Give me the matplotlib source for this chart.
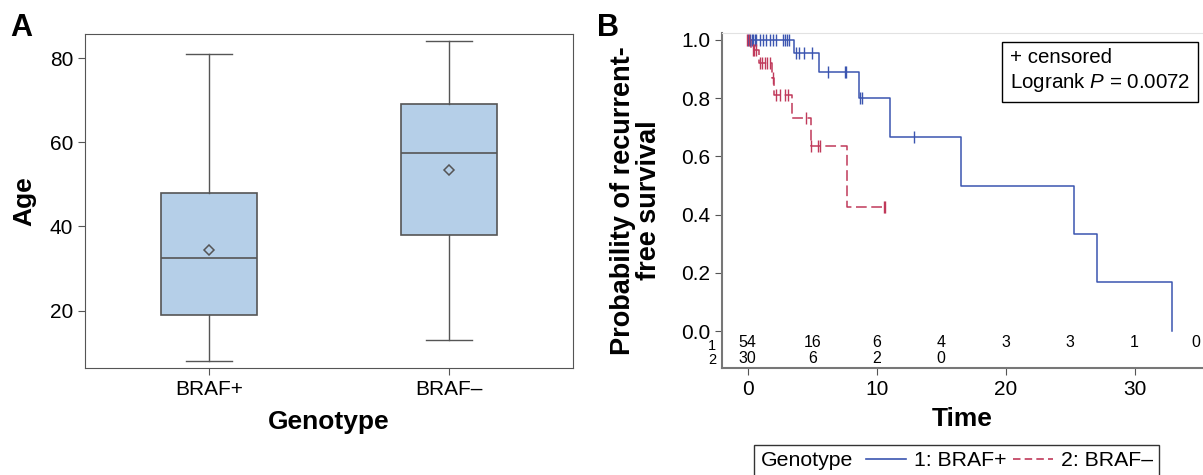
import numpy as np
import matplotlib
matplotlib.use("Agg")
import matplotlib.pyplot as plt
from matplotlib.lines import Line2D
from matplotlib.offsetbox import HPacker

plt.rcParams['font.family'] = ['Liberation Sans', 'DejaVu Sans']
plt.rcParams['mathtext.fontset'] = 'custom'
plt.rcParams['mathtext.it'] = 'Liberation Sans:italic'
plt.rcParams['mathtext.rm'] = 'Liberation Sans'

# panel A: age by genotype
groups = ['BRAF+', 'BRAF\u2013']
whis_lo = [8, 13]
q1 = [19, 38]
median = [32.5, 57.5]
q3 = [48, 69]
whis_hi = [81, 84]
means = [34.5, 53.5]

# panel B: Kaplan-Meier steps (time, survival)
braf_pos_t = [0, 3.6, 5.5, 8.6, 11.05, 16.55, 25.3, 27.1, 32.9]
braf_pos_s = [1.0, 0.957, 0.891, 0.80, 0.667, 0.50, 0.333, 0.167, 0.0]
braf_pos_end = 32.9
braf_neg_t = [0, 0.25, 0.88, 1.9, 2.0, 3.44, 4.9, 7.7]
braf_neg_s = [1.0, 0.966, 0.922, 0.868, 0.811, 0.731, 0.637, 0.425]
braf_neg_end = 10.7

# censored times
cens_pos_t = [0.03, 0.16, 0.29, 0.41, 0.54, 0.67, 0.93, 1.19, 1.45, 1.71, 1.97, 2.22,
              2.74, 2.92, 3.05, 3.21,
              3.75, 3.95, 4.35, 4.95,
              6.2, 7.55, 7.65,
              8.7, 8.85,
              12.9]
cens_neg_t = [-0.05, 0.1, 0.37, 0.5, 0.67, 0.93, 1.11, 1.32, 1.5, 1.76, 1.97,
              2.22, 2.53, 2.87, 3.13, 4.5, 4.93, 5.45, 5.63, 10.55, 10.65]

risk_times = [0, 5, 10, 15, 20, 25, 30, 34.75]
risk_pos = [54, 16, 6, 4, 3, 3, 1, 0]
risk_neg = [30, 6, 2, 0]

blue = '#3B55B0'
red = '#C0395A'
box_fill = '#B5CFE8'
gray = '#555555'


def km_value(times, surv, t):
    idx = np.searchsorted(times, t, side='right') - 1
    return surv[max(idx, 0)]


fig = plt.figure(figsize=(12.03, 4.75), dpi=100)

# ---------- A ----------
axA = fig.add_axes([85 / 1203, 1 - 368 / 475, 488 / 1203, 334 / 475])
stats = []
for i in range(len(groups)):
    stats.append(dict(med=median[i], q1=q1[i], q3=q3[i], whislo=whis_lo[i],
                      whishi=whis_hi[i], mean=means[i], fliers=[], label=groups[i]))
axA.bxp(stats, positions=[1, 2], widths=0.4, capwidths=0.19, showmeans=True,
        patch_artist=True,
        boxprops=dict(facecolor=box_fill, edgecolor=gray, linewidth=1.2),
        medianprops=dict(color=gray, linewidth=1.2),
        whiskerprops=dict(color=gray, linewidth=1.0),
        capprops=dict(color=gray, linewidth=1.0),
        meanprops=dict(marker='D', markerfacecolor='none', markeredgecolor=gray,
                       markersize=5.5, markeredgewidth=1.1))
axA.set_xlim(0.483, 2.517)
axA.set_ylim(6.4, 85.7)
axA.set_yticks([20, 40, 60, 80])
axA.tick_params(labelsize=15, color=gray, length=5)
for sp in axA.spines.values():
    sp.set_color(gray)
axA.set_xlabel('Genotype', fontsize=19, fontweight='bold', labelpad=8)
axA.set_ylabel('Age', fontsize=19, fontweight='bold', labelpad=10)
fig.text(10 / 1203, 1 - 28 / 475, 'A', fontsize=22, fontweight='bold', va='center')

# ---------- B ----------
axB = fig.add_axes([722 / 1203, 1 - 368 / 475, 481 / 1203, 335 / 475])
axB.step(braf_pos_t + [braf_pos_end], braf_pos_s + [braf_pos_s[-1]], where='post',
         color=blue, lw=1.1)
axB.step(braf_neg_t + [braf_neg_end], braf_neg_s + [braf_neg_s[-1]], where='post',
         color=red, lw=1.1, dashes=(7, 3))
axB.plot(cens_pos_t, [km_value(braf_pos_t, braf_pos_s, t) for t in cens_pos_t],
         ls='none', marker='|', ms=8, mew=1.0, color=blue)
axB.plot(cens_neg_t, [km_value(braf_neg_t, braf_neg_s, max(t, 0)) for t in cens_neg_t],
         ls='none', marker='|', ms=8, mew=1.0, color=red)

axB.set_xlim(-2.0, 35.3)
axB.set_ylim(-0.127, 1.024)
axB.set_yticks([0, 0.2, 0.4, 0.6, 0.8, 1.0])
axB.set_yticklabels(['0.0', '0.2', '0.4', '0.6', '0.8', '1.0'])
axB.set_xticks([0, 10, 20, 30])
axB.tick_params(labelsize=15, color=gray, length=5)
axB.spines['right'].set_visible(False)
axB.spines['top'].set_color('#E2E2E2')
axB.spines['left'].set_color('#777777')
axB.spines['bottom'].set_color('#777777')
axB.spines['left'].set_linewidth(1.5)
axB.spines['bottom'].set_linewidth(1.5)

for t, n in zip(risk_times, risk_pos):
    axB.text(t, -0.041, str(n), ha='center', va='center', fontsize=11.5)
for t, n in zip(risk_times, risk_neg):
    axB.text(t, -0.096, str(n), ha='center', va='center', fontsize=11.5)
axB.text(-0.012, -0.05, '1', transform=axB.get_yaxis_transform(), ha='right',
         va='center', fontsize=10.5)
axB.text(-0.012, -0.098, '2', transform=axB.get_yaxis_transform(), ha='right',
         va='center', fontsize=10.5)

axB.set_xlabel('Time', fontsize=19, fontweight='bold', labelpad=6)
axB.set_ylabel('Probability of recurrent-\nfree survival', fontsize=19.5,
               fontweight='bold', labelpad=14, linespacing=0.95)
fig.text(597 / 1203, 1 - 28 / 475, 'B', fontsize=22, fontweight='bold', va='center')

fig.text(1010 / 1203, 1 - 71 / 475, '+ censored\nLogrank $P$ = 0.0072', fontsize=14.8,
         va='center', ha='left', linespacing=1.2,
         bbox=dict(boxstyle='square,pad=0.4', facecolor='white', edgecolor='black', lw=1.0))

# bottom legend
handles = [Line2D([], [], color=blue, lw=1.2),
           Line2D([], [], color=red, lw=1.2, dashes=(4.5, 2.5))]
leg = fig.legend(handles, ['1: BRAF+', '2: BRAF\u2013'], ncol=2, title='Genotype',
                 title_fontsize=15.3, fontsize=15.3, loc='upper left',
                 bbox_to_anchor=(754 / 1203, 1 - 445 / 475), frameon=True, fancybox=False,
                 edgecolor='black', handlelength=1.9, handletextpad=0.35, columnspacing=0.3,
                 borderpad=0.3, borderaxespad=0)
leg.get_frame().set_linewidth(1.0)
old = leg._legend_box
new = HPacker(pad=old.pad, sep=0.45 * 15.3 * 100 / 72, align='center',
              children=old.get_children())
new.set_figure(fig)
new.axes = old.axes
new.set_offset(leg._findoffset)
leg._legend_box = new

fig.savefig('out.png', dpi=100)
